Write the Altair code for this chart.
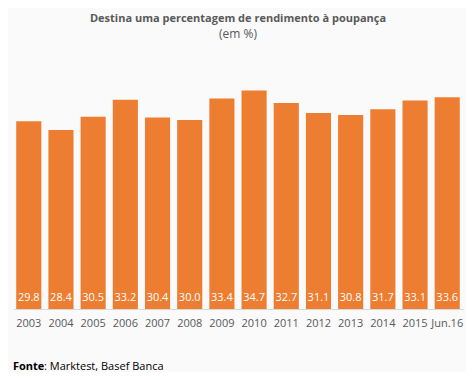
import altair as alt
import pandas as pd

categories = ["2003", "2004", "2005", "2006", "2007", "2008", "2009",
              "2010", "2011", "2012", "2013", "2014", "2015", "Jun.16"]
values = [29.8, 28.4, 30.5, 33.2, 30.4, 30.0, 33.4,
          34.7, 32.7, 31.1, 30.8, 31.7, 33.1, 33.6]

title = "Destina uma percentagem de rendimento à poupança"
subtitle = "(em %)"
source_bold = "Fonte"
source_rest = ": Marktest, Basef Banca"

df = pd.DataFrame({"cat": categories, "val": values})
df["lab"] = df["val"].map(lambda v: f"{v:.1f}")

FONT = "Open Sans"
GRAY = "#595959"
ORANGE = "#ED7D31"

x = alt.X("cat:N", sort=categories, title=None,
          scale=alt.Scale(paddingInner=0.22, paddingOuter=0.1),
          axis=alt.Axis(labelAngle=0, ticks=False, domainColor="#d9d9d9",
                        labelColor=GRAY, labelFont=FONT, labelFontSize=11,
                        labelPadding=8, grid=False))
y = alt.Y("val:Q", title=None, scale=alt.Scale(domain=[0, 40]), axis=None)

base = alt.Chart(df)
bars = base.mark_bar(color=ORANGE).encode(x=x, y=y)
labels = base.mark_text(color="white", font=FONT, fontSize=11,
                        baseline="middle", dy=-11).encode(
    x=alt.X("cat:N", sort=categories),
    y=alt.YDatum(0),
    text="lab:N")

foot_df = pd.DataFrame({"a": [source_bold], "b": [source_rest]})
foot1 = alt.Chart(foot_df).mark_text(align="left", baseline="middle", font=FONT,
                                     fontSize=11, fontWeight="bold", color="black").encode(
    x=alt.value(0), y=alt.value(310), text="a:N")
foot2 = alt.Chart(foot_df).mark_text(align="left", baseline="middle", font=FONT,
                                     fontSize=11, color="black").encode(
    x=alt.value(31), y=alt.value(310), text="b:N")

chart = alt.layer(bars, labels, foot1, foot2).properties(
    width=450, height=252,
    background="#fafafa",
    padding={"left": 5, "top": 49, "right": 3, "bottom": 63},
    autosize=alt.AutoSizeParams(type="none"),
    title=alt.TitleParams(text=title, subtitle=subtitle, anchor="middle",
                          font=FONT, fontSize=11, fontWeight="bold", color=GRAY,
                          subtitleFont=FONT, subtitleFontSize=12, subtitleColor=GRAY,
                          subtitlePadding=5, offset=17),
).configure_view(stroke=None)

chart.save("out.html", embed_options={"renderer": "svg", "actions": False})
